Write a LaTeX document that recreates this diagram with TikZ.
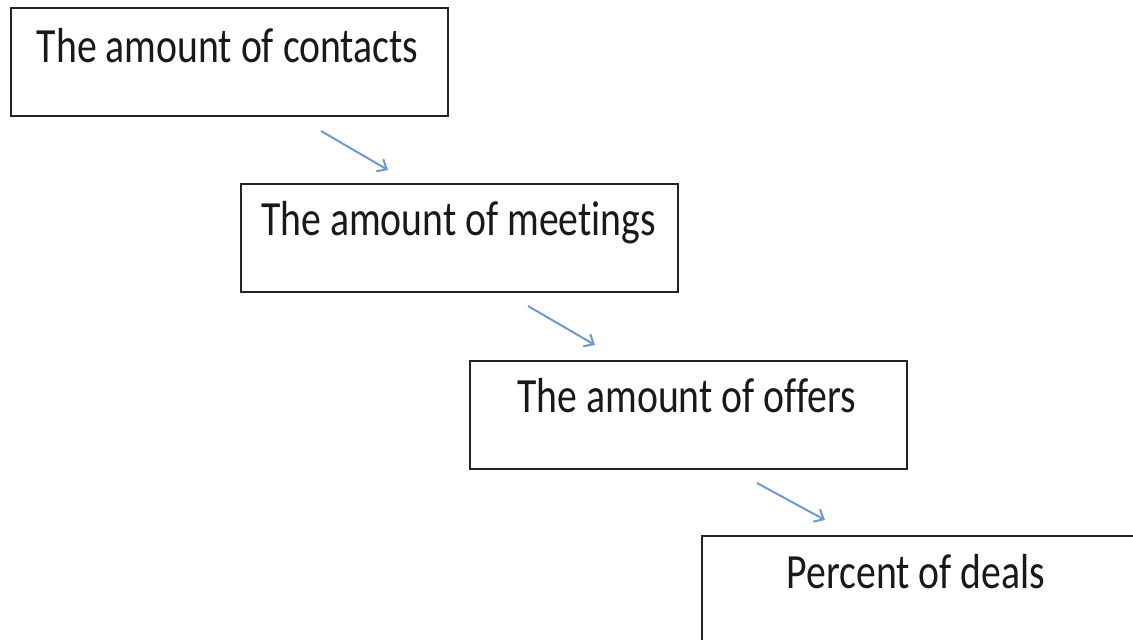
\documentclass[tikz,border=0pt]{standalone}
\usepackage{fontspec}
\setmainfont[Ligatures=NoCommon]{Carlito}
\usetikzlibrary{arrows.meta,calc}
\definecolor{flowblue}{RGB}{110,152,208}
\definecolor{boxline}{RGB}{35,35,35}
\newcommand{\tallfont}[1]{\scalebox{1}[1.24]{\fontsize{39.7pt}{44pt}\selectfont #1}}
\begin{document}
\begin{tikzpicture}[x=1pt,y=-1pt,
  stagebox/.style={draw=boxline, line width=2.4pt, fill=white, rectangle,
    minimum width=437pt, minimum height=108pt, anchor=north west, inner sep=0pt},
  stagetext/.style={anchor=base, inner sep=0pt, text=black!90},
  flowarrow/.style={draw=flowblue, line width=2pt,
    -{Straight Barb[length=8pt,width=14pt,line width=2pt]}}]
  \useasboundingbox (0,0) rectangle (1133,640);
  \clip (0,0) rectangle (1133,640);

  % stage boxes, stepping down to the right
  \node[stagebox] (contacts) at (10,7) {};
  \node[stagebox] (meetings) at (240,183) {};
  \node[stagebox] (offers)   at (469,360) {};
  \node[stagebox, minimum width=450pt] (deals) at (701,535) {};

  % labels, set near the top of each box
  \node[stagetext] (tcontacts) at ($(contacts.north)+(-2,55)$) {\tallfont{The amount of contacts}};
  \node[stagetext] (tmeetings) at ($(meetings.north)+(-1,52)$) {\tallfont{The amount of meetings}};
  \node[stagetext] (toffers)   at ($(offers.north)+(-2,52)$)   {\tallfont{The amount of offers}};
  \node[stagetext] (tdeals)    at (916,588)                    {\tallfont{Percent of deals}};

  % arrows between the stages
  \coordinate (a1s) at (321,131); \coordinate (a1e) at (388,170);
  \coordinate (a2s) at (528,306); \coordinate (a2e) at (595,345);
  \coordinate (a3s) at (757,483); \coordinate (a3e) at (825,520);
  \draw[flowarrow] (a1s) -- (a1e);
  \draw[flowarrow] (a2s) -- (a2e);
  \draw[flowarrow] (a3s) -- (a3e);
\end{tikzpicture}
\end{document}
